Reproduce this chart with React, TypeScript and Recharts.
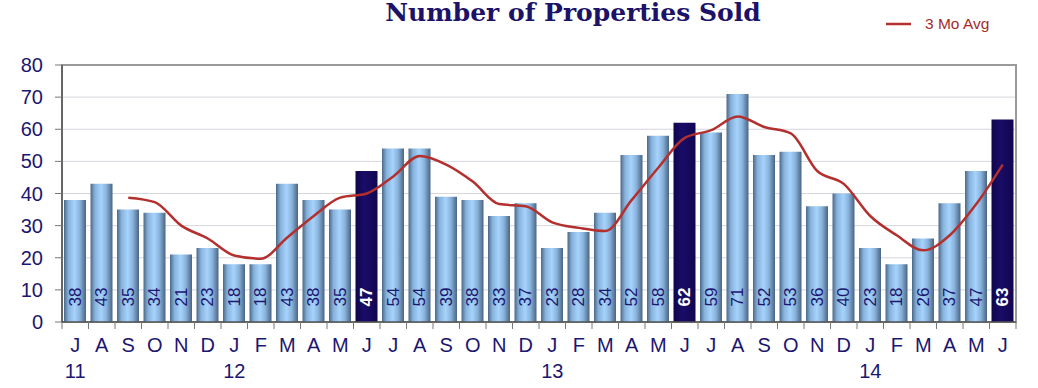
import {
  ComposedChart,
  Bar,
  Line,
  Cell,
  XAxis,
  YAxis,
  CartesianGrid,
  ReferenceArea,
  LabelList,
  Legend,
} from "recharts";

const months = [
  "J", "A", "S", "O", "N", "D",
  "J", "F", "M", "A", "M", "J", "J", "A", "S", "O", "N", "D",
  "J", "F", "M", "A", "M", "J", "J", "A", "S", "O", "N", "D",
  "J", "F", "M", "A", "M", "J",
];

const years = [
  "11", "", "", "", "", "",
  "12", "", "", "", "", "", "", "", "", "", "", "",
  "13", "", "", "", "", "", "", "", "", "", "", "",
  "14", "", "", "", "", "",
];

const sold = [
  38, 43, 35, 34, 21, 23,
  18, 18, 43, 38, 35, 47, 54, 54, 39, 38, 33, 37,
  23, 28, 34, 52, 58, 62, 59, 71, 52, 53, 36, 40,
  23, 18, 26, 37, 47, 63,
];

const avg3: (number | null)[] = [
  null, null, 38.7, 37.3, 30, 26,
  20.7, 19.7, 26.3, 33, 38.7, 40, 45.3, 51.7, 49, 43.7, 36.7, 36,
  31, 29.3, 28.3, 38, 48, 57.3, 59.7, 64, 60.7, 58.7, 47, 43,
  33, 27, 22.3, 27, 36.7, 49,
];

// June bars are drawn dark
const highlighted = [11, 23, 35];

const yTicks = [0, 10, 20, 30, 40, 50, 60, 70, 80];

const NAVY = "#1b1670";
const FONT = "'Liberation Sans', Arial, sans-serif";

const data = months.map((m, i) => ({
  key: `${i}`,
  month: m,
  year: years[i],
  sold: sold[i],
  avg: avg3[i],
}));

function MonthTick(props: any) {
  const { x, y, payload, index } = props;
  const half = payload?.offset || 13.25;
  const d = data[index] ?? data[Number(payload.value)];
  return (
    <g>
      <line x1={x - half} y1={y} x2={x - half} y2={y + 7} stroke="#777" strokeWidth={1} />
      {index === data.length - 1 && (
        <line x1={x + half} y1={y} x2={x + half} y2={y + 7} stroke="#777" strokeWidth={1} />
      )}
      <text x={x} y={y + 30} textAnchor="middle" fill={NAVY} fontSize={20} fontFamily={FONT}>
        {d.month}
      </text>
      {d.year && (
        <text x={x} y={y + 56} textAnchor="middle" fill={NAVY} fontSize={20} fontFamily={FONT}>
          {d.year}
        </text>
      )}
    </g>
  );
}

function BarValue(props: any) {
  const { x, y, width, height, value, index } = props;
  const cx = x + width / 2;
  const cy = y + height - 25;
  const dark = highlighted.includes(index);
  return (
    <text
      x={cx}
      y={cy}
      transform={`rotate(-90, ${cx}, ${cy})`}
      textAnchor="middle"
      dominantBaseline="central"
      fill={dark ? "#ffffff" : NAVY}
      fontWeight={dark ? 700 : 400}
      fontSize={17}
      fontFamily={FONT}
    >
      {value}
    </text>
  );
}

function AvgLegend() {
  return (
    <div style={{ display: "flex", alignItems: "center", fontFamily: FONT }}>
      <svg width={26} height={6}>
        <line x1={0} y1={3} x2={25} y2={3} stroke="#b3302e" strokeWidth={2.5} />
      </svg>
      <span style={{ marginLeft: 13, color: "#a52a2a", fontSize: 15.5 }}>3 Mo Avg</span>
    </div>
  );
}

export default function App() {
  return (
    <div style={{ position: "absolute", left: 0, top: 0, width: 1038, height: 388, background: "#fff" }}>
      <div
        style={{
          position: "absolute",
          left: 0,
          width: 1146,
          top: 0,
          textAlign: "center",
          fontFamily: "'DejaVu Serif', Georgia, serif",
          fontWeight: 700,
          fontSize: 25,
          lineHeight: "25px",
          color: "#1c1268",
        }}
      >
        Number of Properties Sold
      </div>
      <ComposedChart
        width={1038}
        height={388}
        data={data}
        margin={{ top: 47, right: 22, bottom: 0, left: 0 }}
        barSize={22}
      >
        <defs>
          <linearGradient id="cylBar" x1="0" y1="0" x2="1" y2="0">
            <stop offset="0%" stopColor="#4b6888" />
            <stop offset="20%" stopColor="#86b1da" />
            <stop offset="48%" stopColor="#a6d3fc" />
            <stop offset="72%" stopColor="#89b3dc" />
            <stop offset="100%" stopColor="#4a6482" />
          </linearGradient>
          <linearGradient id="cylDark" x1="0" y1="0" x2="1" y2="0">
            <stop offset="0%" stopColor="#0f064a" />
            <stop offset="40%" stopColor="#1a0c68" />
            <stop offset="100%" stopColor="#100650" />
          </linearGradient>
        </defs>
        <CartesianGrid vertical={false} stroke="#d6d6de" />
        <ReferenceArea y1={0} y2={80} fill="none" stroke="#9a9a9a" strokeWidth={2} />
        <XAxis
          dataKey="key"
          height={66}
          interval={0}
          tickSize={0}
          tickMargin={0}
          tickLine={false}
          axisLine={{ stroke: "#555", strokeWidth: 1.5 }}
          tick={<MonthTick />}
        />
        <YAxis
          width={62}
          domain={[0, 80]}
          ticks={yTicks}
          interval={0}
          tickSize={7}
          tickMargin={12}
          tickLine={{ stroke: "#777" }}
          axisLine={{ stroke: "#555", strokeWidth: 1.5 }}
          tick={{ fill: NAVY, fontSize: 20, fontFamily: FONT }}
        />
        <Legend
          verticalAlign="top"
          content={<AvgLegend />}
          wrapperStyle={{ position: "absolute", top: 15, left: 886, width: 150 }}
        />
        <Bar dataKey="sold" fill="url(#cylBar)" isAnimationActive={false} legendType="none">
          {data.map((d, i) => (
            <Cell key={d.key} fill={highlighted.includes(i) ? "url(#cylDark)" : "url(#cylBar)"} />
          ))}
          <LabelList dataKey="sold" content={<BarValue />} />
        </Bar>
        <Line
          dataKey="avg"
          type="monotone"
          stroke="#b3302e"
          strokeWidth={2.5}
          dot={false}
          connectNulls={false}
          isAnimationActive={false}
          name="3 Mo Avg"
        />
      </ComposedChart>
    </div>
  );
}
